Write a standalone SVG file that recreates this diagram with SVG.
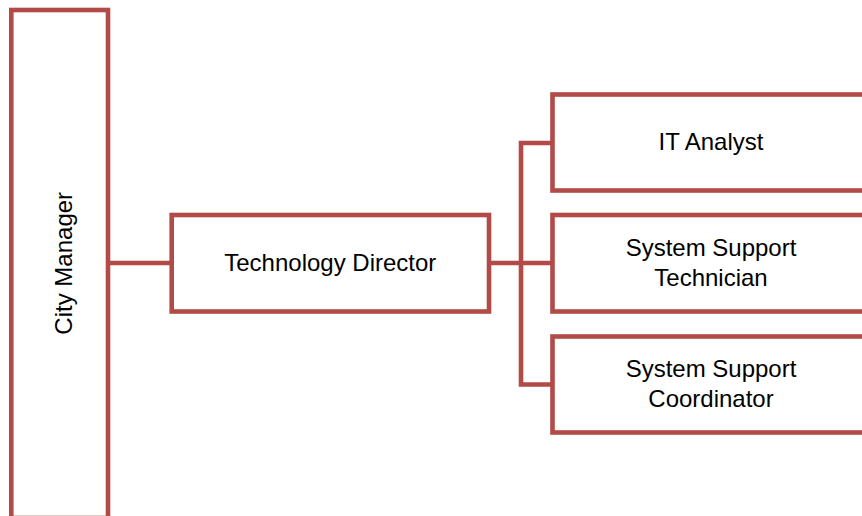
<svg xmlns="http://www.w3.org/2000/svg" width="862" height="516" viewBox="0 0 862 516">
  <style>
    .box { fill: #ffffff; stroke: #B24A48; stroke-width: 4.6; }
    .link { fill: none; stroke: #B24A48; stroke-width: 4.6; stroke-linejoin: miter; }
    .label { font-family: "Liberation Sans", Arial, sans-serif; font-size: 24px; fill: #000000; text-anchor: middle; }
  </style>
  <rect width="862" height="516" fill="#ffffff"/>

  <!-- connectors -->
  <g id="connectors">
    <path class="link" d="M108 263 H171.7"/>
    <path class="link" d="M489 263 H552.5"/>
    <path class="link" d="M552.5 143 H521 V384.5 H552.5"/>
  </g>

  <g id="city-manager">
    <rect class="box" x="11.3" y="10" width="96.7" height="508"/>
    <text class="label" transform="translate(72 263.3) rotate(-90)">City Manager</text>
  </g>

  <g id="technology-director">
    <rect class="box" x="171.7" y="215" width="317.3" height="96.5"/>
    <text class="label" x="330.3" y="271">Technology Director</text>
  </g>

  <g id="it-analyst">
    <rect class="box" x="552.5" y="94.5" width="318" height="96"/>
    <text class="label" x="711" y="150">IT Analyst</text>
  </g>

  <g id="system-support-technician">
    <rect class="box" x="552.5" y="215" width="318" height="96.5"/>
    <text class="label" x="711" y="256">System Support</text>
    <text class="label" x="711" y="286">Technician</text>
  </g>

  <g id="system-support-coordinator">
    <rect class="box" x="552.5" y="336.5" width="318" height="96"/>
    <text class="label" x="711" y="377">System Support</text>
    <text class="label" x="711" y="407">Coordinator</text>
  </g>
</svg>
